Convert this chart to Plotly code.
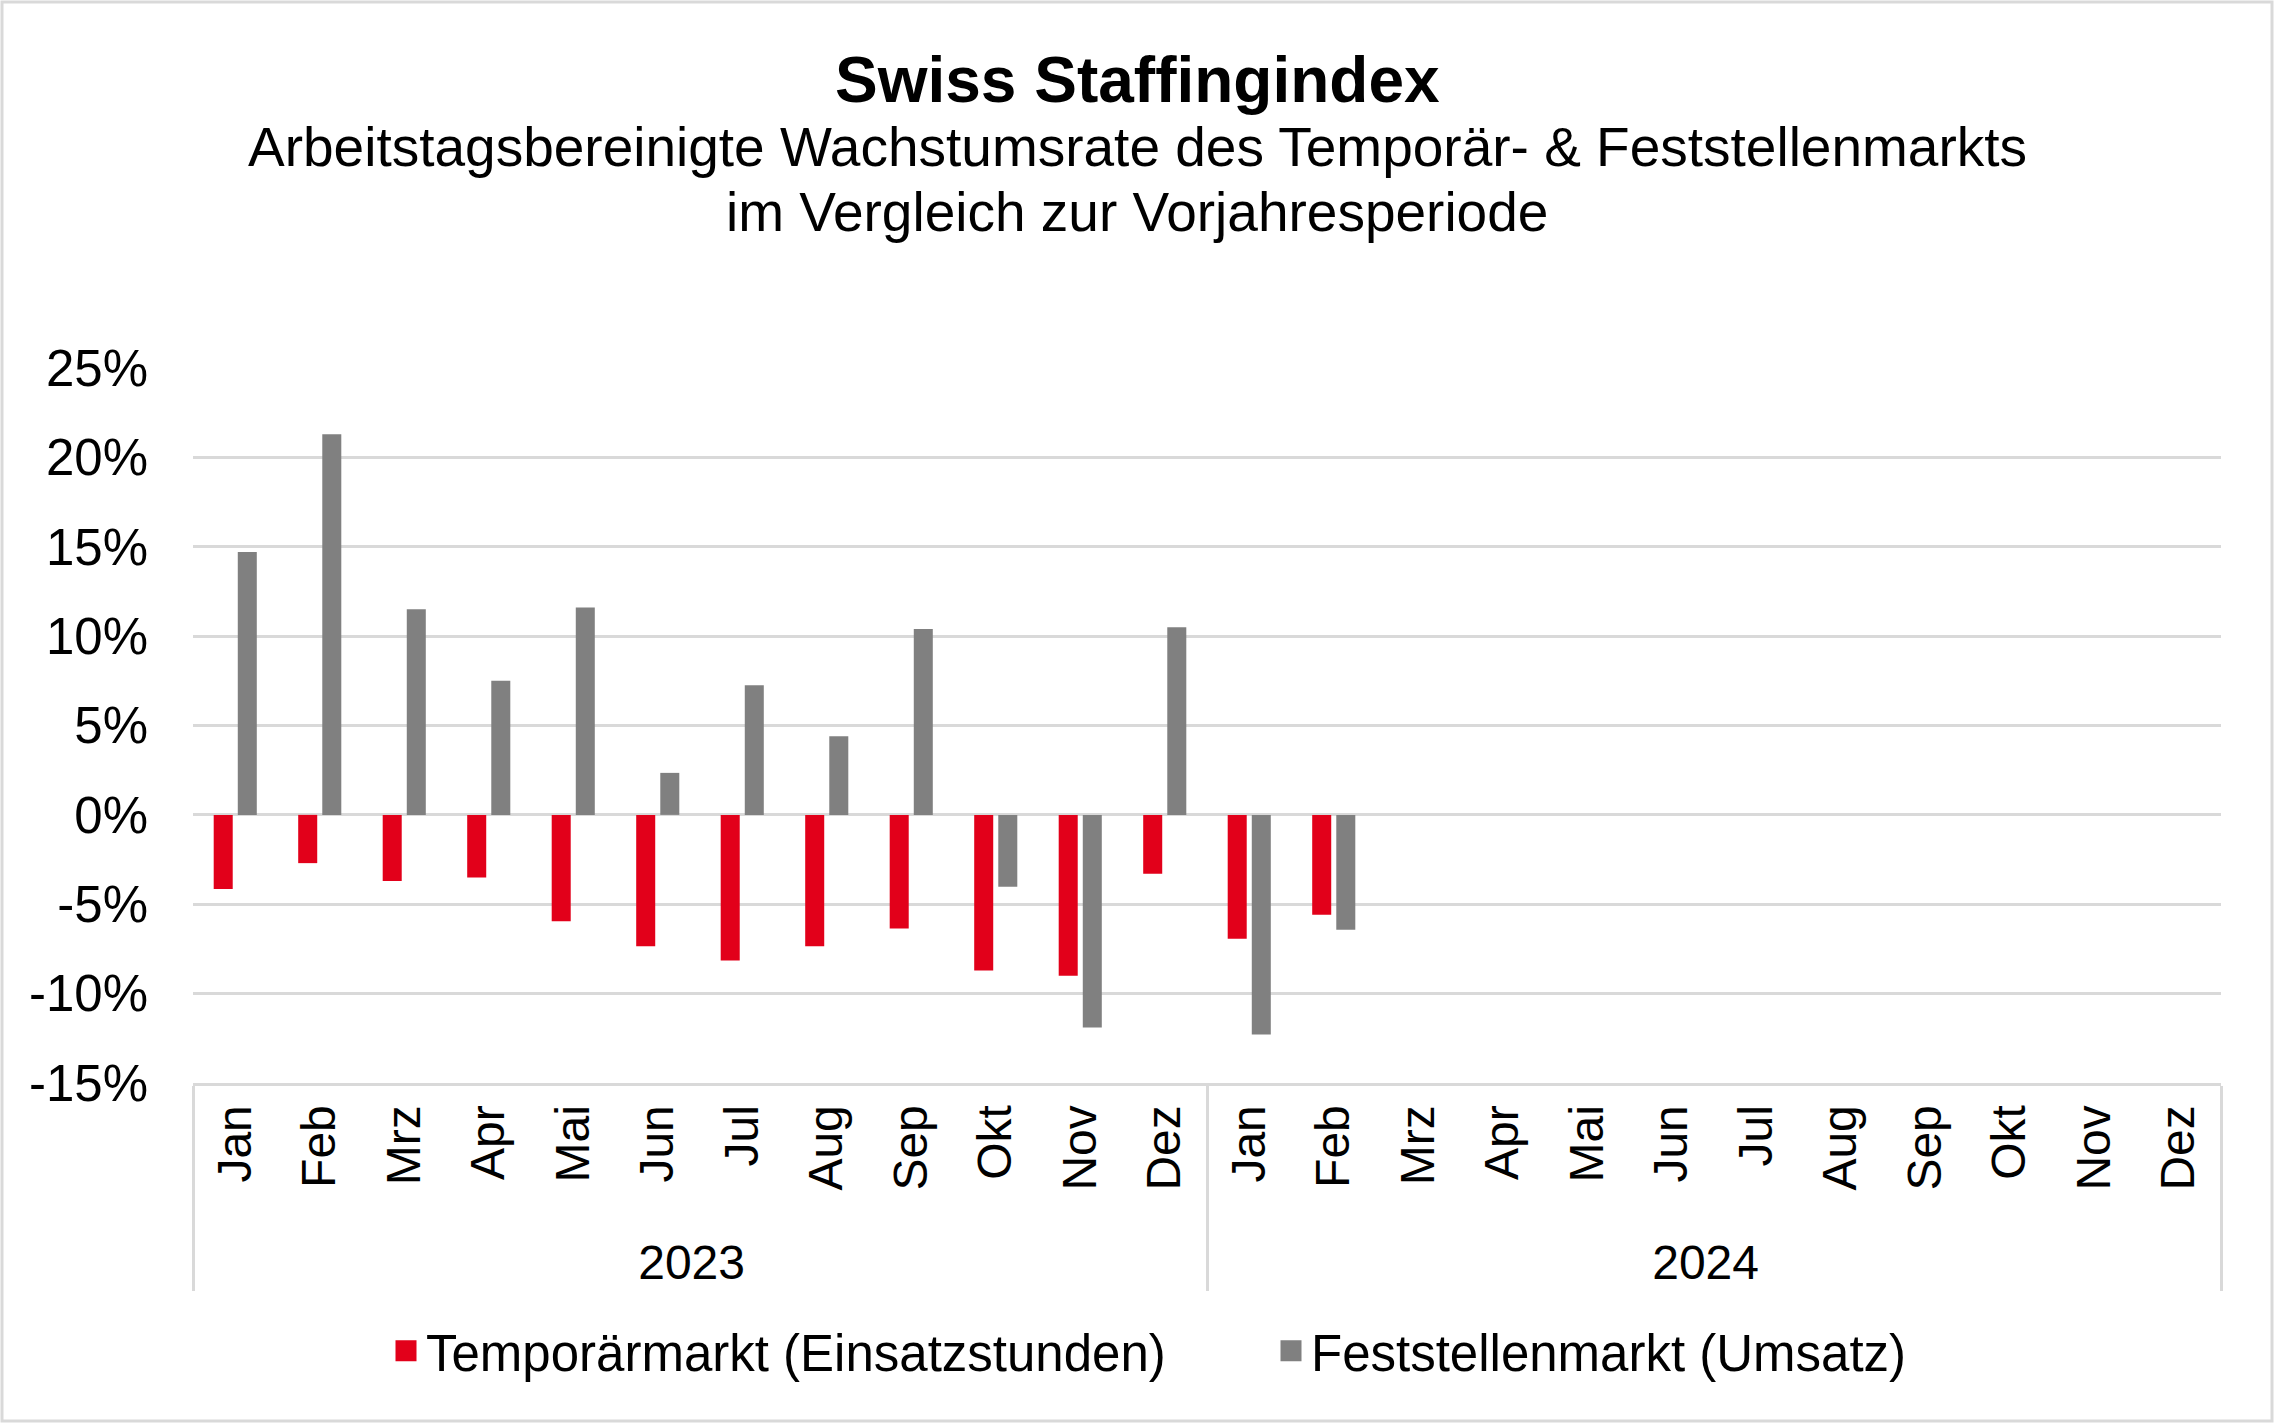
import plotly.graph_objects as go

W, H = 2274, 1423
L, R, T, B = 193, 53, 368, 340

months = ["Jan", "Feb", "Mrz", "Apr", "Mai", "Jun", "Jul", "Aug", "Sep", "Okt", "Nov", "Dez"]
years = ["2023", "2024"]
temp_2023 = [-4.15, -2.7, -3.7, -3.5, -5.95, -7.35, -8.15, -7.35, -6.35, -8.7, -9.0, -3.3]
temp_2024 = [-6.93, -5.59] + [None] * 10
fest_2023 = [14.7, 21.3, 11.5, 7.5, 11.6, 2.35, 7.25, 4.4, 10.4, -4.02, -11.9, 10.5]
fest_2024 = [-12.29, -6.42] + [None] * 10
ytick_vals = [-15, -10, -5, 0, 5, 10, 15, 20, 25]
ytick_text = ["-15%", "-10%", "-5%", "0%", "5%", "10%", "15%", "20%", "25%"]
name_temp = "Temporärmarkt (Einsatzstunden)"
name_fest = "Feststellenmarkt (Umsatz)"

RED = "#E2001A"
GREY = "#808080"
LINE = "#D9D9D9"
FONT = "Liberation Sans, Arial, sans-serif"

x_outer = [y for y in years for _ in months]
x_inner = months * len(years)
temp = temp_2023 + temp_2024
fest = fest_2023 + fest_2024

fig = go.Figure()
fig.add_trace(go.Bar(x=[x_outer, x_inner], y=temp, name=name_temp,
                     marker=dict(color=RED, line=dict(width=0)), showlegend=False))
fig.add_trace(go.Bar(x=[x_outer, x_inner], y=fest, name=name_fest,
                     marker=dict(color=GREY, line=dict(width=0)), showlegend=False))
# legend proxies with larger square symbols
fig.add_trace(go.Scatter(x=[[None], [None]], y=[None], mode="markers", name=name_temp,
                         marker=dict(symbol="square", size=16, color=RED,
                                     line=dict(color=RED, width=10))))
fig.add_trace(go.Scatter(x=[[None], [None]], y=[None], mode="markers", name=name_fest,
                         marker=dict(symbol="square", size=16, color=GREY,
                                     line=dict(color=GREY, width=10))))

pw = W - L - R
ph = H - T - B
def px(xp):
    return (xp - L) / pw
def py(yp):
    return 1 - (yp - T) / ph

fig.add_annotation(text="<b>Swiss Staffingindex</b>", x=px(W / 2), y=py(80), xref="paper", yref="paper",
                   showarrow=False, font=dict(size=64, color="black", family=FONT), xanchor="center", yanchor="middle")
fig.add_annotation(text="Arbeitstagsbereinigte Wachstumsrate des Temporär- & Feststellenmarkts",
                   x=px(W / 2), y=py(147), xref="paper", yref="paper",
                   showarrow=False, font=dict(size=55, color="black", family=FONT), xanchor="center", yanchor="middle")
fig.add_annotation(text="im Vergleich zur Vorjahresperiode",
                   x=px(W / 2), y=py(212), xref="paper", yref="paper",
                   showarrow=False, font=dict(size=55, color="black", family=FONT), xanchor="center", yanchor="middle")

# outer chart border
fig.add_shape(type="rect", xref="paper", yref="paper", x0=px(2), x1=px(W - 2), y0=py(H - 2), y1=py(2),
              line=dict(color=LINE, width=3), layer="below")

fig.update_layout(
    width=W, height=H,
    margin=dict(l=L, r=R, t=T, b=B, autoexpand=False),
    paper_bgcolor="white", plot_bgcolor="white",
    font=dict(family=FONT, size=48, color="black"),
    barmode="group", bargap=0.43, bargroupgap=0.21,
    legend=dict(orientation="h", x=px(386), xanchor="left", y=py(1351), yanchor="middle",
                font=dict(size=51, color="black"), entrywidth=840, itemwidth=30,
                bgcolor="rgba(0,0,0,0)"),
    showlegend=True,
)
fig.update_xaxes(type="multicategory", showline=True, linecolor=LINE, linewidth=3,
                 showgrid=False, tickangle=-90, ticks="",
                 showdividers=True, dividercolor=LINE, dividerwidth=3,
                 tickfont=dict(size=48, color="black", family=FONT))
fig.update_yaxes(range=[-15, 25], tickvals=ytick_vals, ticktext=ytick_text,
                 showgrid=True, gridcolor=LINE, gridwidth=3,
                 zeroline=True, zerolinecolor=LINE, zerolinewidth=3,
                 showline=False, ticks="", ticklabelstandoff=44,
                 tickfont=dict(size=51, color="black", family=FONT))

fig.write_html("out.html", config={"displayModeBar": False},
               post_script="document.body.style.margin='0';")
